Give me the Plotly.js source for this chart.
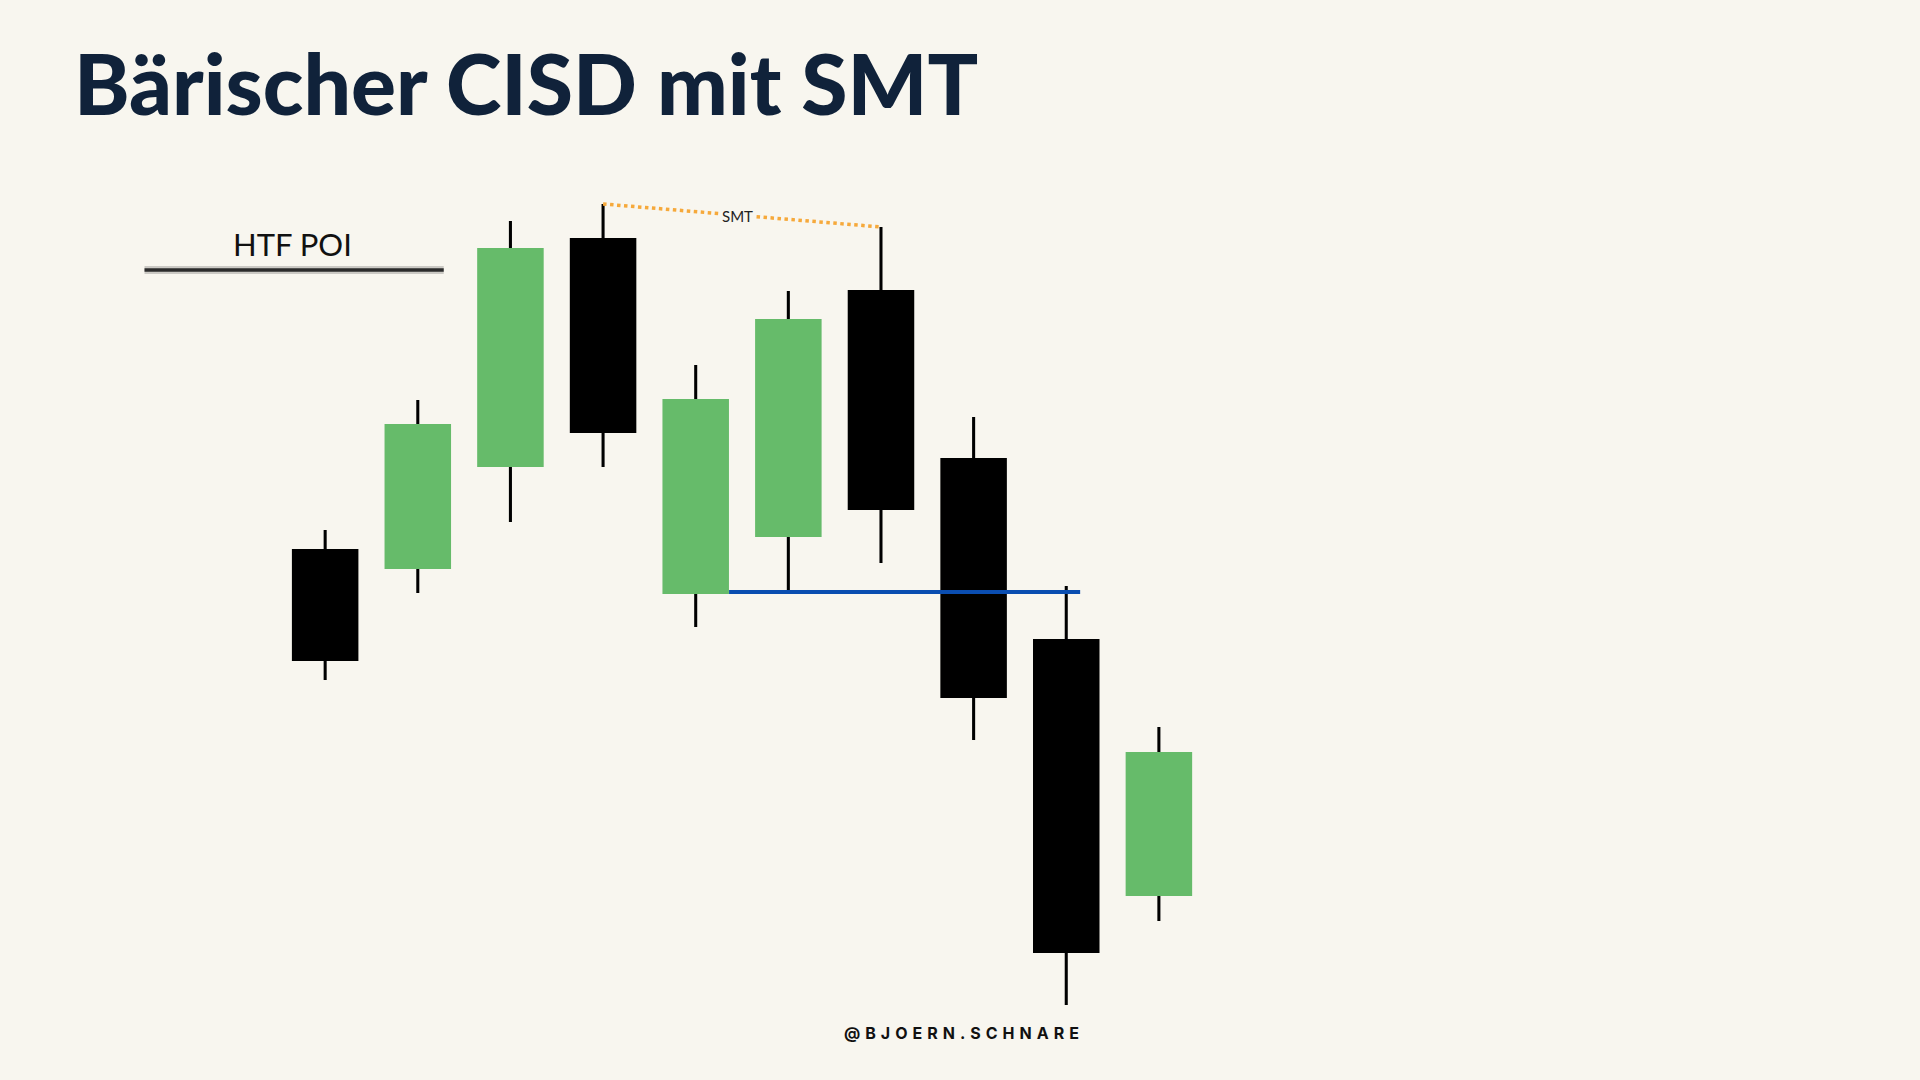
<!DOCTYPE html>
<html>
<head>
<meta charset="utf-8">
<script src="https://cdn.plot.ly/plotly-3.0.1.min.js"></script>
<style>
  html, body { margin: 0; padding: 0; background: #f8f6ef; }
  #chart { width: 1920px; height: 1080px; }
</style>
</head>
<body>
<div id="chart"></div>
<script>
// ---- data (price units, arbitrary scale) ----
const candleIndex = [1, 2, 3, 4, 5, 6, 7, 8, 9, 10];
const openPrices  = [53.1, 51.1, 61.3, 84.2, 48.6, 54.3, 79.0, 62.2, 44.1, 18.4];
const highPrices  = [55.0, 68.0, 85.9, 87.6, 71.5, 78.9, 85.3, 66.3, 49.4, 35.3];
const lowPrices   = [40.0, 48.7, 55.8, 61.3, 45.3, 48.9, 51.7, 34.0,  7.5, 15.9];
const closePrices = [41.9, 65.6, 83.2, 64.7, 68.1, 76.1, 57.0, 38.2, 12.7, 32.8];

const titleText = "Bärischer CISD mit SMT";
const poiLabel = "HTF POI";
const poiLevel = 81.0;
const poiRange = [-0.95, 2.28];
const smtLabel = "SMT";
const smtFrom = 4;   // candle number of first high
const smtTo = 7;     // candle number of second high
const cisdLevel = 48.8;
const cisdRange = [5.36, 9.15];
const watermark = "@BJOERN.SCHNARE";

// ---- styles ----
const BG = "#f8f6ef";
const GREEN = "#66bb6a";
const BLACK = "#000000";
const BLUE = "#0a4db0";
const ORANGE = "#f6a93b";
const NAVY = "#10223a";

const bodyBase = openPrices.map((o, i) => Math.min(o, closePrices[i]));
const bodyLen = openPrices.map((o, i) => Math.abs(closePrices[i] - o));
const bodyColor = openPrices.map((o, i) => closePrices[i] >= o ? GREEN : BLACK);
const wickLen = highPrices.map((h, i) => h - lowPrices[i]);

const traces = [
  {
    type: "bar", x: candleIndex, base: lowPrices, y: wickLen, width: 0.033,
    marker: { color: BLACK, line: { width: 0 } }, hoverinfo: "skip", showlegend: false
  },
  {
    type: "bar", x: candleIndex, base: bodyBase, y: bodyLen, width: 0.718,
    marker: { color: bodyColor, line: { width: 0 } }, hoverinfo: "skip", showlegend: false
  },
  {
    type: "scatter", mode: "lines", x: cisdRange, y: [cisdLevel, cisdLevel],
    line: { color: BLUE, width: 4 }, hoverinfo: "skip", showlegend: false
  },
  {
    type: "scatter", mode: "lines",
    x: [smtFrom, smtTo], y: [highPrices[smtFrom - 1], highPrices[smtTo - 1]],
    line: { color: ORANGE, width: 3.5, dash: "dot" }, hoverinfo: "skip", showlegend: false
  },
  {
    type: "scatter", mode: "lines", x: poiRange, y: [poiLevel, poiLevel],
    line: { color: "rgba(0,0,0,0.18)", width: 8 }, hoverinfo: "skip", showlegend: false
  },
  {
    type: "scatter", mode: "lines", x: poiRange, y: [poiLevel, poiLevel],
    line: { color: "#2b2b2b", width: 3.5 }, hoverinfo: "skip", showlegend: false
  }
];

const smtMidX = (smtFrom + smtTo) / 2 - 0.05;
const smtMidY = (highPrices[smtFrom - 1] + highPrices[smtTo - 1]) / 2;

const layout = {
  width: 1920, height: 1080,
  margin: { l: 0, r: 0, t: 0, b: 0 },
  paper_bgcolor: BG, plot_bgcolor: BG,
  barmode: "overlay",
  showlegend: false,
  xaxis: { range: [-2.51, 18.216], visible: false, showgrid: false, zeroline: false, fixedrange: true },
  yaxis: { range: [0, 108], visible: false, showgrid: false, zeroline: false, fixedrange: true },
  annotations: [
    {
      xref: "paper", yref: "paper", x: 72 / 1920, y: 1 - 82 / 1080,
      xanchor: "left", yanchor: "middle", showarrow: false,
      text: titleText,
      font: { family: "Lato, sans-serif", size: 84, color: NAVY, weight: 900 }
    },
    {
      xref: "x", yref: "y", x: (poiRange[0] + poiRange[1]) / 2 - 0.02, y: poiLevel + 2.6,
      xanchor: "center", yanchor: "middle", showarrow: false,
      text: poiLabel,
      font: { family: "Lato, sans-serif", size: 31, color: "#111111" }
    },
    {
      xref: "x", yref: "y", x: smtMidX, y: smtMidY,
      xanchor: "center", yanchor: "middle", showarrow: false,
      text: smtLabel, bgcolor: BG, borderpad: 2,
      font: { family: "Lato, sans-serif", size: 15, color: "#222222" }
    },
    {
      xref: "paper", yref: "paper", x: 842 / 1920, y: 1 - 1033 / 1080,
      xanchor: "left", yanchor: "middle", showarrow: false,
      text: "<b><span style=\"letter-spacing:5px\">" + watermark + "</span></b>",
      font: { family: "Inter, Roboto, sans-serif", size: 16, color: "#111111" }
    }
  ]
};

Plotly.newPlot("chart", traces, layout, { staticPlot: true, displayModeBar: false });
</script>
</body>
</html>
